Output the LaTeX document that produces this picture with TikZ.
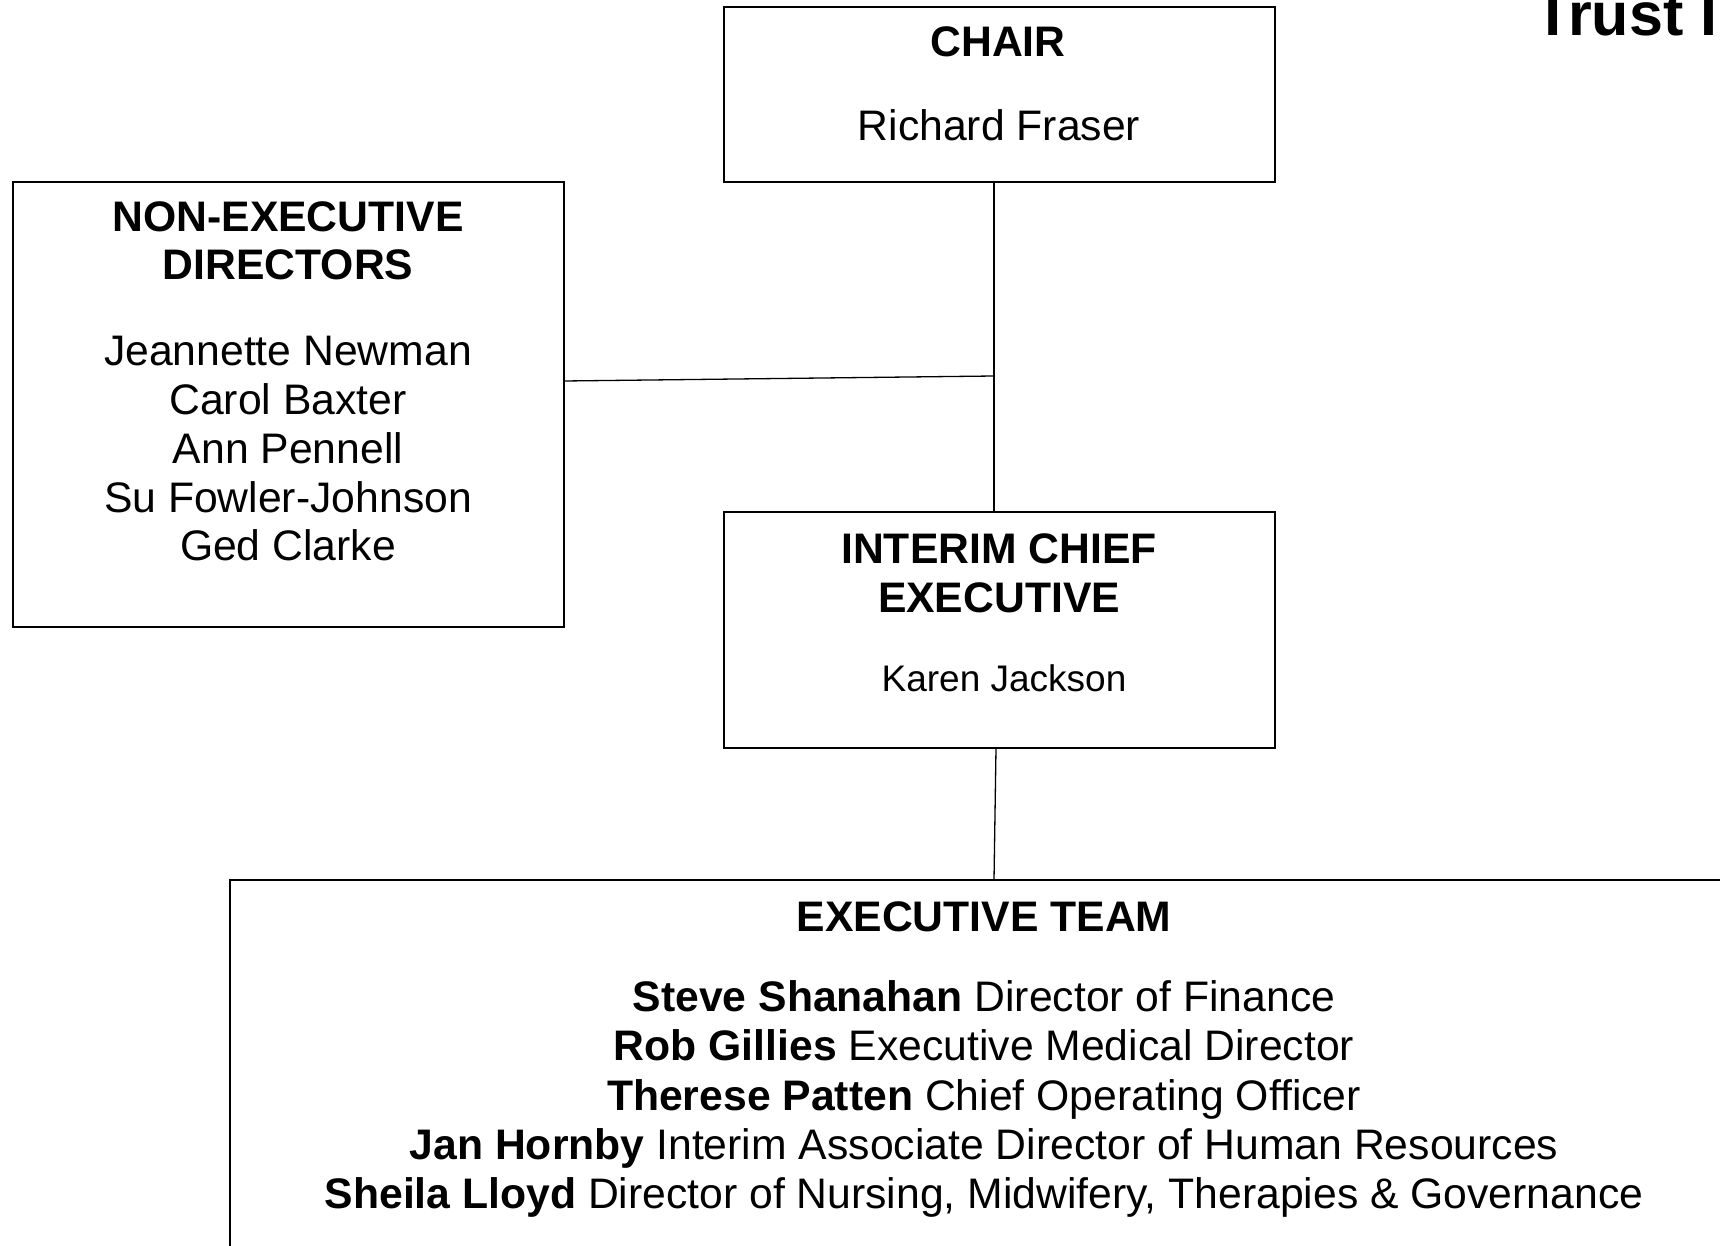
\documentclass[tikz,border=0pt]{standalone}
\usepackage{fontspec}
\setmainfont{Liberation Sans}
\begin{document}
\begin{tikzpicture}[x=1pt,y=-1pt,
  box/.style={draw=black,line width=1.6pt,fill=none},
  conn/.style={draw=black,line width=1.3pt},
  txt/.style={anchor=base,inner sep=0pt,font=\fontsize{42.7}{49}\selectfont},
  btxt/.style={anchor=base,inner sep=0pt,font=\fontsize{42.7}{49}\selectfont\bfseries},
  stxt/.style={anchor=base,inner sep=0pt,font=\fontsize{37}{44}\selectfont}]
\clip (0,0) rectangle (1720,1246);
\useasboundingbox (0,0) rectangle (1720,1246);
% boxes
\draw[box] (724,7) rectangle (1275,182);
\draw[box] (13,182) rectangle (564,627);
\draw[box] (724,512) rectangle (1275,748);
\draw[box] (230,1262) -- (230,880) -- (1740,880);
% anchor coordinates
\coordinate (chairB) at (994,182);
\coordinate (iceT) at (994,512);
\coordinate (nedR) at (564,381);
\coordinate (junc) at (994,376);
\coordinate (iceB) at (996,748);
\coordinate (etT) at (994,880);
\draw[conn] (chairB) -- (iceT);
\draw[conn] (nedR) -- (junc);
\draw[conn] (iceB) -- (etT);
% title
\node[anchor=base west,inner sep=0pt,font=\fontsize{61}{70}\selectfont\bfseries] (trust) at (1534,36) {Trust I};
% chair
\node[btxt] (chair) at (998,57) {CHAIR};
\node[txt] (chairname) at (999,141) {Richard Fraser};
% NED
\node[btxt] (ned1) at (288,232) {NON-EXECUTIVE};
\node[btxt] (ned2) at (288,280) {DIRECTORS};
\node[txt] (n1) at (288,365) {Jeannette Newman};
\node[txt] (n2) at (288,414) {Carol Baxter};
\node[txt] (n3) at (288,463) {Ann Pennell};
\node[txt] (n4) at (288,512) {Su Fowler-Johnson};
\node[txt] (n5) at (288,560) {Ged Clarke};
% ICE
\node[btxt] (ice1) at (999,563) {INTERIM CHIEF};
\node[btxt] (ice2) at (999,612) {EXECUTIVE};
\node[stxt] (icename) at (1004,691) {Karen Jackson};
% ET
\node[btxt] (et) at (984,931) {EXECUTIVE TEAM};
\node[txt] (e1) at (984,1011) {\textbf{Steve Shanahan} Director of Finance};
\node[txt] (e2) at (984,1060) {\textbf{Rob Gillies} Executive Medical Director};
\node[txt] (e3) at (984,1110) {\textbf{Therese Patten} Chief Operating Officer};
\node[txt] (e4) at (984,1159) {\textbf{Jan Hornby} Interim Associate Director of Human Resources};
\node[txt] (e5) at (984,1208) {\textbf{Sheila Lloyd} Director of Nursing, Midwifery, Therapies \& Governance};
\end{tikzpicture}
\end{document}
